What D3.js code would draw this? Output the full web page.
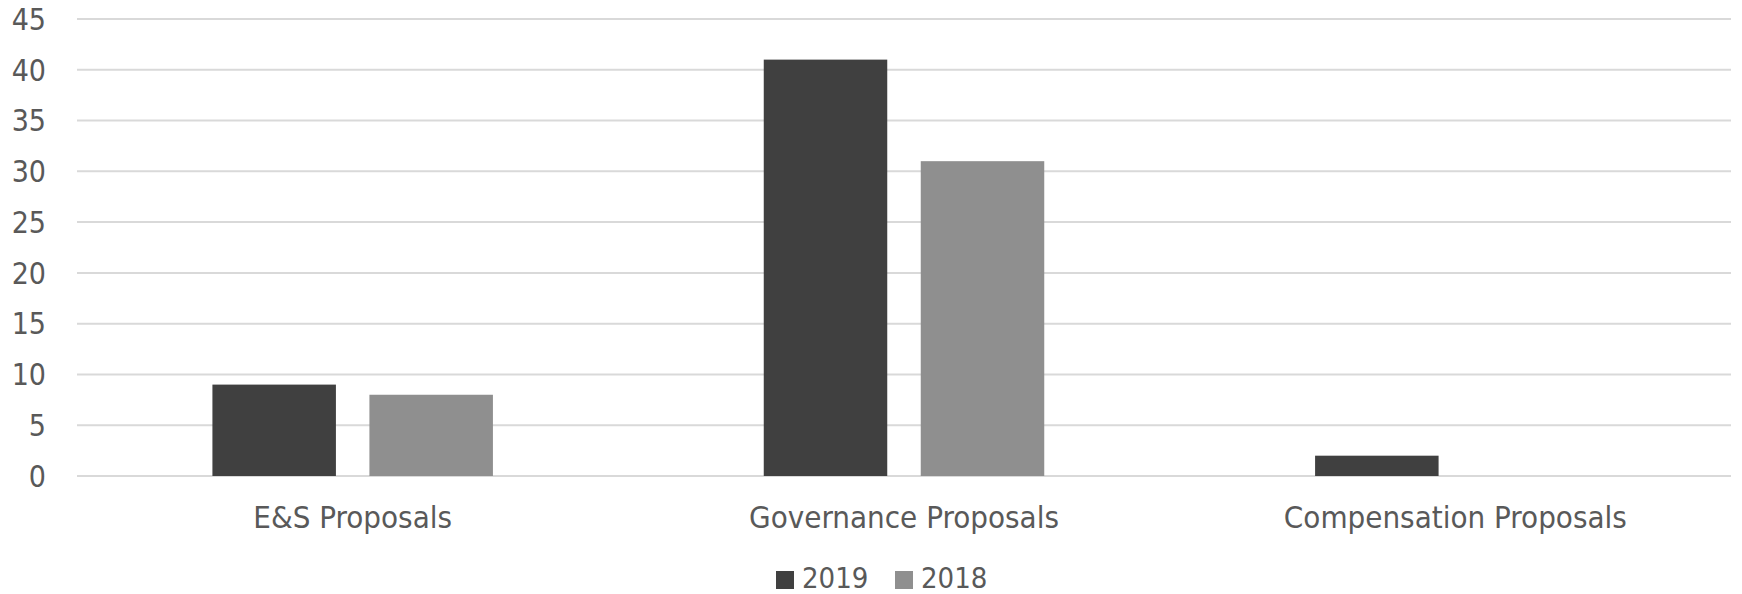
<!DOCTYPE html>
<html>
<head>
<meta charset="utf-8">
<script src="https://cdn.jsdelivr.net/npm/d3@7"></script>
<style>
  body { margin: 0; background: #fff; }
  text { font-family: "DejaVu Sans Condensed", "DejaVu Sans", sans-serif; font-stretch: condensed; fill: #595959; }
</style>
</head>
<body>
<div id="chart"></div>
<script>
const categories = ["E&S Proposals", "Governance Proposals", "Compensation Proposals"];
const seriesNames = ["2019", "2018"];
const values2019 = [9, 41, 2];
const values2018 = [8, 31, 0];
const yTicks = [0, 5, 10, 15, 20, 25, 30, 35, 40, 45];
const colors = ["#404040", "#8f8f8f"];

// Layout
const W = 1742, H = 594;
const plot = { left: 77, right: 1731, top: 19, bottom: 476 };

const svg = d3.select("#chart")
    .append("svg")
    .attr("width", W)
    .attr("height", H);

const x0 = d3.scaleBand()
    .domain(categories)
    .range([plot.left, plot.right])
    .paddingInner(0)
    .paddingOuter(0);

const barW = 123.5, barGap = 33.5;
const x1 = d3.scaleOrdinal()
    .domain(seriesNames)
    .range([-(barW + barGap / 2), barGap / 2]);

const y = d3.scaleLinear()
    .domain([0, 45])
    .range([plot.bottom, plot.top]);

// Gridlines
svg.append("g")
    .selectAll("line")
    .data(yTicks)
    .enter()
    .append("line")
    .attr("x1", plot.left)
    .attr("x2", plot.right)
    .attr("y1", d => y(d))
    .attr("y2", d => y(d))
    .attr("stroke", "#d9d9d9")
    .attr("stroke-width", 2);

// Y tick labels
svg.append("g")
    .selectAll("text")
    .data(yTicks)
    .enter()
    .append("text")
    .attr("x", 46)
    .attr("y", d => y(d))
    .attr("dy", "0.36em")
    .attr("text-anchor", "end")
    .style("font-size", "30px")
    .text(d => d);

// Bars
const rows = categories.map((c, i) => ({ cat: c, vals: [values2019[i], values2018[i]] }));

const groups = svg.append("g")
    .selectAll("g")
    .data(rows)
    .enter()
    .append("g")
    .attr("transform", d => `translate(${x0(d.cat) + x0.bandwidth() / 2},0)`);

groups.selectAll("rect")
    .data(d => d.vals.map((v, j) => ({ key: seriesNames[j], v: v, j: j })))
    .enter()
    .filter(d => d.v > 0)
    .append("rect")
    .attr("x", d => x1(d.key))
    .attr("width", barW)
    .attr("y", d => y(d.v))
    .attr("height", d => y(0) - y(d.v))
    .attr("fill", d => colors[d.j]);

// Category labels
svg.append("g")
    .selectAll("text")
    .data(categories)
    .enter()
    .append("text")
    .attr("x", d => x0(d) + x0.bandwidth() / 2)
    .attr("y", 528)
    .attr("text-anchor", "middle")
    .style("font-size", "31px")
    .text(d => d);

// Legend
const legendX = [776, 895];
const legend = svg.append("g")
    .selectAll("g")
    .data(seriesNames)
    .enter()
    .append("g")
    .attr("transform", (d, i) => `translate(${legendX[i]},571)`);

legend.append("rect")
    .attr("width", 18)
    .attr("height", 18)
    .attr("fill", (d, i) => colors[i]);

legend.append("text")
    .attr("x", 26)
    .attr("y", 17)
    .style("font-size", "29px")
    .text(d => d);
</script>
</body>
</html>
